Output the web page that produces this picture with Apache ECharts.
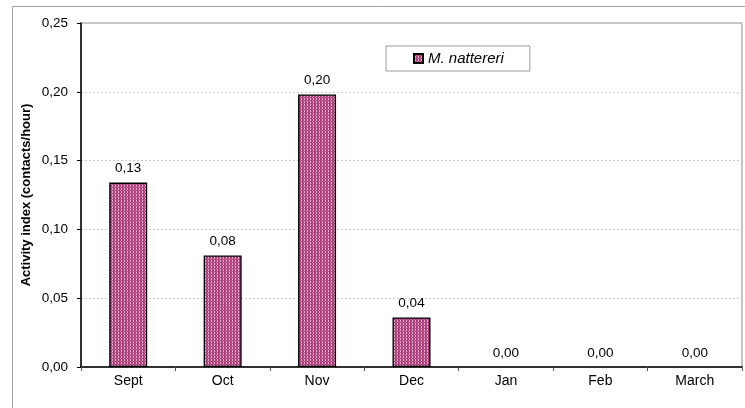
<!DOCTYPE html>
<html>
<head>
<meta charset="utf-8">
<script src="https://cdn.jsdelivr.net/npm/echarts@6/dist/echarts.min.js"></script>
<style>
  html, body { margin: 0; padding: 0; background: #fff; }
  #chart { width: 745px; height: 408px; }
</style>
</head>
<body>
<div id="chart"></div>
<script>
// Monthly activity index of M. nattereri
const months = ['Sept', 'Oct', 'Nov', 'Dec', 'Jan', 'Feb', 'March'];
const activity = [0.134, 0.081, 0.198, 0.036, 0, 0, 0];
const yTicks = [0, 0.05, 0.10, 0.15, 0.20, 0.25];

// Dotted fill pattern for the bars
function makePattern() {
  const c = document.createElement('canvas');
  c.width = 3; c.height = 3;
  const g = c.getContext('2d');
  g.fillStyle = '#a9407c';
  g.fillRect(0, 0, 3, 3);
  g.fillStyle = '#e7a9cc';
  g.fillRect(1, 0, 1, 1);
  g.fillRect(1, 2, 1, 1);
  g.fillStyle = '#c9709f';
  g.fillRect(0, 1, 1, 1);
  return c;
}
const pattern = { image: makePattern(), repeat: 'repeat' };

const fmt = v => v.toFixed(2).replace('.', ',');

// Empty months get no outline
const barData = activity.map(v => v > 0 ? v : { value: v, itemStyle: { borderWidth: 0 } });

const FONT = 'Liberation Sans, Arial, sans-serif';
const chart = echarts.init(document.getElementById('chart'), null, { renderer: 'canvas' });
chart.setOption({
  animation: false,
  textStyle: { fontFamily: FONT },
  grid: { left: 81, right: 3, top: 23, bottom: 41, show: true, borderColor: '#8c8c8c', borderWidth: 1 },
  graphic: [{
    type: 'rect',
    shape: { x: 12.5, y: 6.5, width: 760, height: 420 },
    style: { fill: 'none', stroke: '#a0a0a0', lineWidth: 1 },
    z: -1
  }],
  legend: {
    data: ['M. nattereri'],
    left: 386, top: 46,
    orient: 'horizontal',
    padding: [5, 26, 5, 27],
    borderColor: '#9a9a9a', borderWidth: 1,
    itemWidth: 9, itemHeight: 9, itemGap: 4,
    icon: 'rect',
    textStyle: { fontStyle: 'italic', fontSize: 15, color: '#000', fontFamily: FONT }
  },
  xAxis: {
    type: 'category',
    data: months,
    axisLine: { lineStyle: { color: '#000', width: 1.5 } },
    axisTick: { show: true, alignWithLabel: false, length: 4, inside: false, lineStyle: { color: '#555' } },
    axisLabel: { color: '#000', fontSize: 14, margin: 7, fontFamily: FONT }
  },
  yAxis: {
    type: 'value',
    min: 0, max: 0.25, interval: 0.05,
    name: 'Activity index (contacts/hour)',
    nameLocation: 'middle',
    nameGap: 48,
    nameMoveOverlap: false,
    nameTextStyle: { fontSize: 13, fontWeight: 'bold', color: '#000', fontFamily: FONT },
    axisLine: { show: true, lineStyle: { color: '#000', width: 1.5 } },
    axisTick: { show: true, length: 4, lineStyle: { color: '#000' } },
    axisLabel: {
      color: '#000', fontSize: 13.5, margin: 13, fontFamily: FONT,
      formatter: v => yTicks.some(t => Math.abs(t - v) < 1e-9) ? fmt(v) : ''
    },
    splitLine: { show: true, lineStyle: { color: '#c8c8c8', type: [2, 2], width: 1 } }
  },
  series: [{
    name: 'M. nattereri',
    type: 'bar',
    data: barData,
    barWidth: 38,
    itemStyle: { color: pattern, borderColor: '#000', borderWidth: 1.3 },
    label: {
      show: true, position: 'top', distance: 7,
      color: '#000', fontSize: 13.5, fontFamily: FONT,
      formatter: p => fmt(p.value)
    }
  }]
});
</script>
</body>
</html>
